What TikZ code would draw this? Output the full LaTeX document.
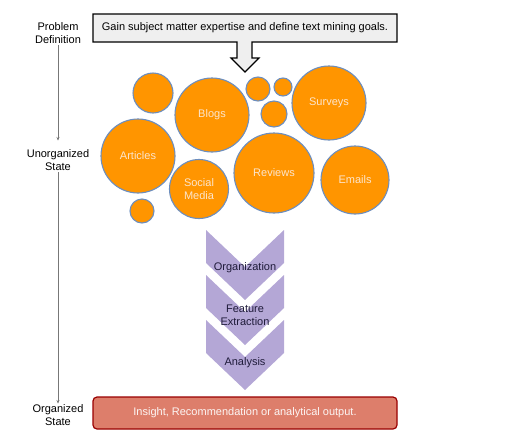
\documentclass[tikz,border=0pt]{standalone}
\usepackage{fontspec}
\setmainfont{Liberation Sans}
\usetikzlibrary{arrows.meta}
\definecolor{orangefill}{HTML}{FF9500}
\definecolor{circborder}{HTML}{6C8EBF}
\definecolor{circtext}{HTML}{FCE5CD}
\definecolor{chevfill}{HTML}{B4A7D6}
\definecolor{chevtext}{HTML}{1F1B3A}
\definecolor{outfill}{HTML}{DD7E6B}
\definecolor{outborder}{HTML}{990000}
\definecolor{calloutfill}{HTML}{EFEFEF}
\definecolor{sidegray}{HTML}{777777}
\tikzset{
  bubble/.style={circle, draw=circborder, line width=1.1pt, fill=orangefill, inner sep=0pt,
    minimum size=#1, text=circtext, align=center, font=\fontsize{11}{13}\selectfont},
  sidelabel/.style={align=center, font=\fontsize{11}{12.5}\selectfont, inner sep=1pt},
  sidearrow/.style={draw=sidegray, line width=0.5pt, -{Stealth[length=3.5pt,width=3pt]}},
  chevron/.style={fill=chevfill, draw=none},
  chevlabel/.style={text=chevtext, align=center, font=\fontsize{11}{13}\selectfont},
}
\begin{document}
\begin{tikzpicture}[x=1pt,y=-1pt]
\useasboundingbox (0,0) rectangle (526,437);

% callout
\draw[fill=calloutfill, line width=1.2pt, line join=miter]
  (93,14) -- (397,14) -- (397,42) -- (252,42) -- (252,58) -- (259,58) -- (245,72)
  -- (231,58) -- (237,58) -- (237,42) -- (93,42) -- cycle;
\node[font=\fontsize{11}{13}\selectfont] (goal) at (245,28) {Gain subject matter expertise and define text mining goals.};

% bubbles
\node[bubble=40pt] (s1) at (153,93) {};
\node[bubble=74pt] (blogs) at (212,115) {Blogs};
\node[bubble=24pt] (s2) at (258,89) {};
\node[bubble=18pt] (s3) at (283,87) {};
\node[bubble=26pt] (s4) at (274,114) {};
\node[bubble=74pt] (surveys) at (329,103) {Surveys};
\node[bubble=74pt] (articles) at (138,156) {Articles};
\node[bubble=59pt] (social) at (199,189) {Social\\Media};
\node[bubble=80pt] (reviews) at (274,173) {Reviews};
\node[bubble=68pt] (emails) at (355,180) {Emails};
\node[bubble=24pt] (s5) at (142,211) {};

% chevrons
\foreach \t in {230,275,320}{
  \fill[chevron] (206,\t) -- (245,\t+37) -- (284,\t) -- (284,\t+33) -- (245,\t+70) -- (206,\t+33) -- cycle;
}
\node[chevlabel] (org) at (245,268) {Organization};
\node[chevlabel] (feat) at (245,315) {Feature\\Extraction};
\node[chevlabel] (ana) at (245,363) {Analysis};

% output
\node[draw=outborder, fill=outfill, line width=1.2pt, rounded corners=4pt,
  minimum width=304pt, minimum height=32pt, text=white!92!outfill,
  font=\fontsize{11}{13}\selectfont] (out) at (245,413) {Insight, Recommendation or analytical output.};

% side labels
\node[sidelabel] (pd) at (58,33) {Problem\\Definition};
\node[sidelabel] (us) at (58,160) {Unorganized\\State};
\node[sidelabel] (os) at (58,415) {Organized\\State};
\draw[sidearrow, shorten <=1pt, shorten >=8pt] (pd.south) -- (us.north);
\draw[sidearrow, shorten <=1pt, shorten >=0pt] (us.south) -- (os.north);
\end{tikzpicture}
\end{document}
